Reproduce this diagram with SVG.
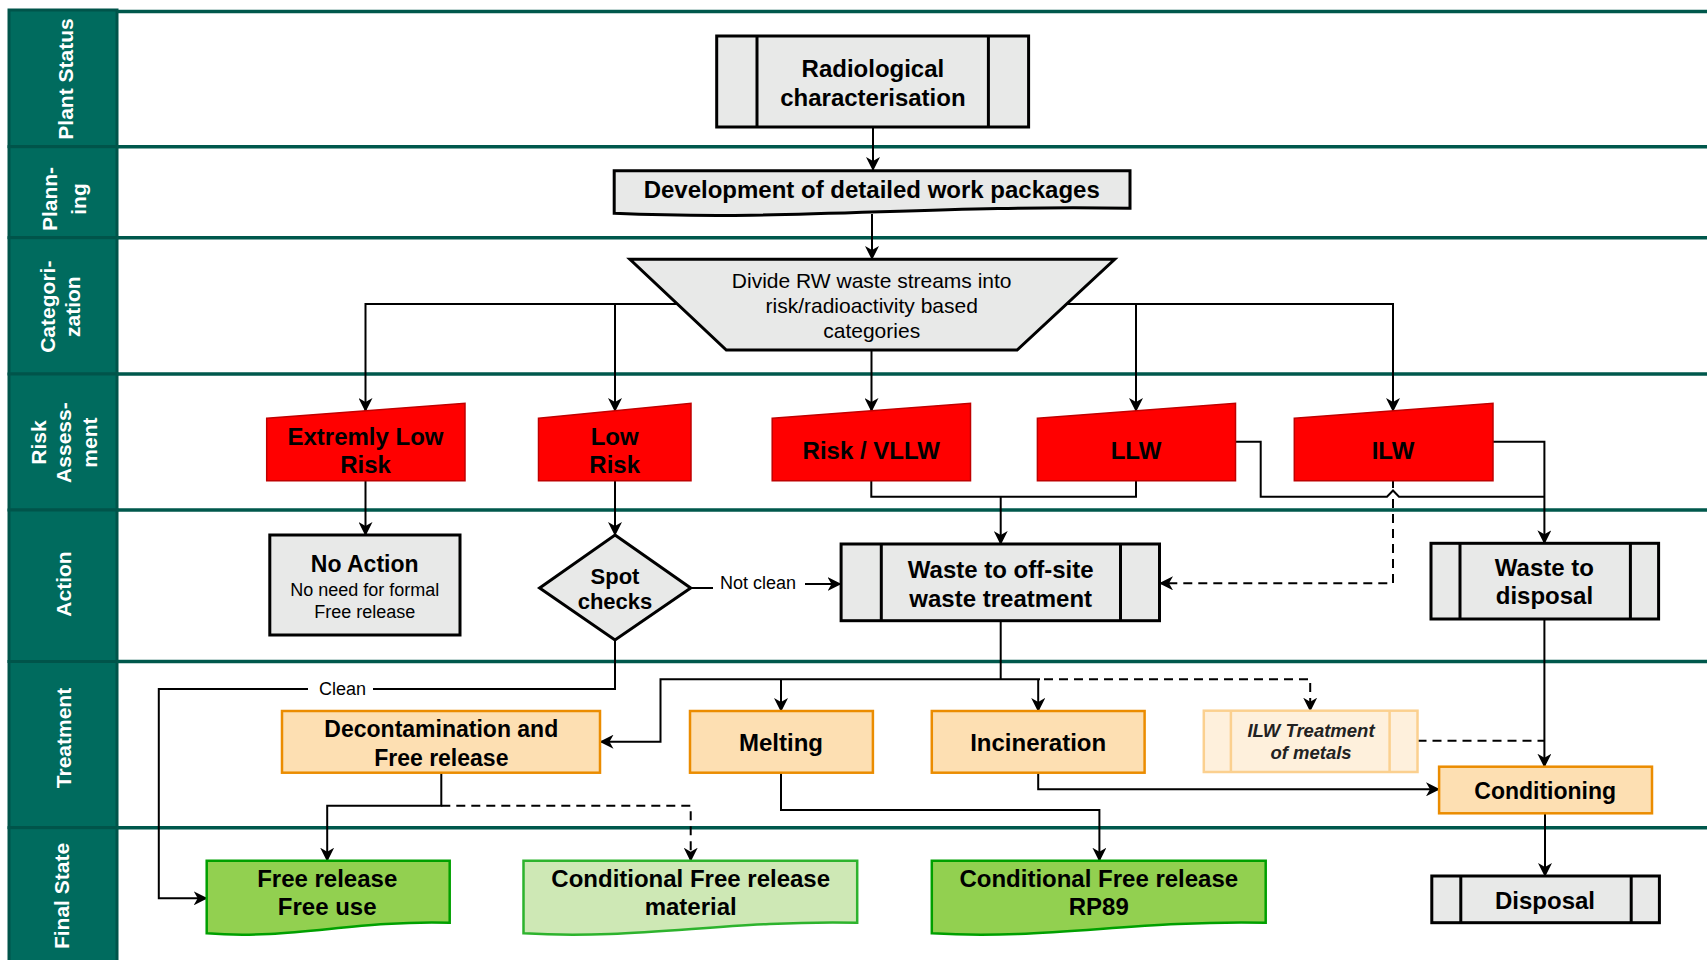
<svg xmlns="http://www.w3.org/2000/svg" width="1707" height="960" viewBox="0 0 1707 960">
<style>
.lane{fill:#006B5E;stroke:#00544A;stroke-width:3}
.lline{stroke:#00584C;stroke-width:3.5;fill:none}
.ltxt{font-family:"Liberation Sans",Arial,sans-serif;font-size:21px;font-weight:bold;fill:#fff;text-anchor:middle}
.gray{fill:#E8E9E8;stroke:#000;stroke-width:3}
.red{fill:#FF0000;stroke:#C00000;stroke-width:1.5}
.org{fill:#FDDFB2;stroke:#EB8C00;stroke-width:2.5}
.orgl{fill:#FEF0DC;stroke:#FBD08F;stroke-width:2.5}
.grn{fill:#92D050;stroke:#00A000;stroke-width:2.5}
.grnl{fill:#CEE8B5;stroke:#2DB32D;stroke-width:2.5}
.b{font-family:"Liberation Sans",Arial,sans-serif;font-size:24px;font-weight:bold;fill:#000;text-anchor:middle}
.r{font-family:"Liberation Sans",Arial,sans-serif;font-size:21px;fill:#000;text-anchor:middle}
.s{font-family:"Liberation Sans",Arial,sans-serif;font-size:18px;fill:#000;text-anchor:middle}
.c{stroke:#000;stroke-width:2;fill:none}
.d{stroke:#000;stroke-width:2;fill:none;stroke-dasharray:9 6}
.a{marker-end:url(#arr)}
</style>
<defs>
<marker id="arr" viewBox="0 0 14 14" refX="13" refY="7" markerWidth="14" markerHeight="14" markerUnits="userSpaceOnUse" orient="auto">
<path d="M0,0 L14,7 L0,14 L4,7 Z" fill="#000"/>
</marker>
</defs>
<rect width="1707" height="960" fill="#fff"/>

<g id="lanes">
<rect class="lane" x="9" y="10" width="108" height="136.7"/>
<rect class="lane" x="9" y="146.7" width="108" height="91"/>
<rect class="lane" x="9" y="237.7" width="108" height="136.3"/>
<rect class="lane" x="9" y="374" width="108" height="136"/>
<rect class="lane" x="9" y="510" width="108" height="151.5"/>
<rect class="lane" x="9" y="661.5" width="108" height="166.2"/>
<rect class="lane" x="9" y="827.7" width="108" height="134"/>
<path class="lline" d="M117,11.5H1707M117,146.7H1707M117,237.7H1707M117,374H1707M117,510H1707M117,661.5H1707M117,827.7H1707"/>
<text class="ltxt" transform="translate(72.5,79) rotate(-90)">Plant Status</text>
<text class="ltxt" transform="translate(57.3,199) rotate(-90)">Plann-</text>
<text class="ltxt" transform="translate(86,199) rotate(-90)">ing</text>
<text class="ltxt" transform="translate(55.3,306.7) rotate(-90)">Categori-</text>
<text class="ltxt" transform="translate(80.2,306.7) rotate(-90)">zation</text>
<text class="ltxt" transform="translate(45.8,442.6) rotate(-90)">Risk</text>
<text class="ltxt" transform="translate(70.6,442.6) rotate(-90)">Assess-</text>
<text class="ltxt" transform="translate(97,442.6) rotate(-90)">ment</text>
<text class="ltxt" transform="translate(70.5,584) rotate(-90)">Action</text>
<text class="ltxt" transform="translate(70.5,738) rotate(-90)">Treatment</text>
<text class="ltxt" transform="translate(68.5,896) rotate(-90)">Final State</text>
</g>

<g id="connectors">
<path class="c a" d="M873,127V170"/>
<path class="c a" d="M872,214V259"/>
<path class="c a" d="M677.4,304H365.5V411"/>
<path class="c a" d="M615,304V411"/>
<path class="c a" d="M871.5,350V411"/>
<path class="c a" d="M1066.6,304H1393V411"/>
<path class="c a" d="M1136,304V411"/>
<path class="c a" d="M365.5,481V535"/>
<path class="c a" d="M615,481V535"/>
<path class="c" d="M871.3,481V496.7H1136V481"/>
<path class="c a" d="M1000.7,496.7V544"/>
<path class="c" d="M1235.5,441.7H1260.7V496.7H1387L1393,490.5L1399,496.7H1544.4"/>
<path class="c a" d="M1493,441.7H1544.4V543.3"/>
<path class="c" d="M1393,481V488"/>
<path class="d a" d="M1393,499V583.3H1160"/>
<path class="c" d="M690.7,588H713"/>
<path class="c a" d="M805,584H840.5"/>
<path class="c" d="M615,640V689H373"/>
<path class="c a" d="M308,689H158.8V898.3H206.7"/>
<path class="c" d="M1000.7,620.7V679.3"/>
<path class="c a" d="M1040,679.3H660.5V741.7H600.5"/>
<path class="c a" d="M781,679.3V711"/>
<path class="c a" d="M1038.2,679.3V711"/>
<path class="d a" d="M1044,679.3H1310.2V710.7"/>
<path class="d" d="M1417.5,740.7H1544.4"/>
<path class="c a" d="M1544.4,619V766.7"/>
<path class="c a" d="M1038.2,772.7V789.3H1439"/>
<path class="c a" d="M781,772.7V810H1099.4V860.7"/>
<path class="c a" d="M441.3,772.7V805.7H327.2V860.7"/>
<path class="d a" d="M441.3,805.7H690.7V860.7"/>
<path class="c a" d="M1545,813.3V876"/>
<text class="s" x="758" y="588.5">Not clean</text>
<text class="s" x="342.5" y="695">Clean</text>
</g>

<g id="radiological">
<rect class="gray" x="716.7" y="36" width="311.9" height="91"/>
<path class="c" style="stroke-width:3" d="M757,36V127M988.4,36V127"/>
<text class="b" x="872.9" y="77">Radiological</text>
<text class="b" x="872.9" y="106">characterisation</text>
</g>

<g id="development">
<path class="gray" d="M614.2,170.7H1130V208.3C923.7,205 794.7,221 614.2,213.3Z"/>
<text class="b" x="871.7" y="198">Development of detailed work packages</text>
</g>

<g id="divide">
<polygon class="gray" points="629.9,259.3 1114.7,259.3 1017.1,350 726.3,350"/>
<text class="r" x="871.7" y="288">Divide RW waste streams into</text>
<text class="r" x="871.7" y="313">risk/radioactivity based</text>
<text class="r" x="871.7" y="338">categories</text>
</g>

<g id="extremely-low-risk">
<polygon class="red" points="266.7,418.3 465,403.3 465,480.7 266.7,480.7"/>
<text class="b" x="365.5" y="445">Extremly Low</text>
<text class="b" x="365.5" y="473">Risk</text>
</g>
<g id="low-risk">
<polygon class="red" points="538.5,418.3 691,403.3 691,480.7 538.5,480.7"/>
<text class="b" x="614.7" y="445">Low</text>
<text class="b" x="614.7" y="473">Risk</text>
</g>
<g id="risk-vllw">
<polygon class="red" points="772.2,418.3 970.5,403.3 970.5,480.7 772.2,480.7"/>
<text class="b" x="871.3" y="459">Risk / VLLW</text>
</g>
<g id="llw">
<polygon class="red" points="1037.4,418.3 1235.5,403.3 1235.5,480.7 1037.4,480.7"/>
<text class="b" x="1136" y="459">LLW</text>
</g>
<g id="ilw">
<polygon class="red" points="1294.3,418.3 1493,403.3 1493,480.7 1294.3,480.7"/>
<text class="b" x="1393" y="459">ILW</text>
</g>

<g id="no-action">
<rect class="gray" x="269.8" y="535" width="190.2" height="100"/>
<text class="b" style="font-size:23px" x="364.7" y="572">No Action</text>
<text class="s" x="364.7" y="596">No need for formal</text>
<text class="s" x="364.7" y="618">Free release</text>
</g>

<g id="spot-checks">
<polygon class="gray" points="615,535 690.7,588 615,640 539.6,588"/>
<text class="b" style="font-size:22px" x="615" y="584">Spot</text>
<text class="b" style="font-size:22px" x="615" y="609">checks</text>
</g>

<g id="offsite">
<rect class="gray" x="841.1" y="544" width="318.4" height="76.7"/>
<path class="c" style="stroke-width:3" d="M881.3,544V620.7M1120.5,544V620.7"/>
<text class="b" x="1000.7" y="577.5">Waste to off-site</text>
<text class="b" x="1000.7" y="607">waste treatment</text>
</g>

<g id="waste-disposal">
<rect class="gray" x="1431" y="543.3" width="227.6" height="75.7"/>
<path class="c" style="stroke-width:3" d="M1460,543.3V619M1630.4,543.3V619"/>
<text class="b" x="1544.4" y="576">Waste to</text>
<text class="b" x="1544.4" y="604">disposal</text>
</g>

<g id="decontamination">
<rect class="org" x="282" y="711" width="318" height="61.7"/>
<text class="b" style="font-size:23px" x="441.3" y="737">Decontamination and</text>
<text class="b" style="font-size:23px" x="441.3" y="765.5">Free release</text>
</g>
<g id="melting">
<rect class="org" x="690" y="711" width="182.9" height="61.7"/>
<text class="b" x="781" y="751">Melting</text>
</g>
<g id="incineration">
<rect class="org" x="931.8" y="711" width="212.8" height="61.7"/>
<text class="b" x="1038.2" y="751">Incineration</text>
</g>
<g id="ilw-treatment">
<rect class="orgl" x="1203.8" y="710.7" width="213.7" height="61.3"/>
<path style="stroke:#FBD08F;stroke-width:2.5;fill:none" d="M1230.9,710.7V772M1389.6,710.7V772"/>
<text class="b" style="font-size:18.5px;font-style:italic;fill:#222" x="1311" y="737.3">ILW Treatment</text>
<text class="b" style="font-size:18.5px;font-style:italic;fill:#222" x="1311" y="759.3">of metals</text>
</g>
<g id="conditioning">
<rect class="org" x="1439.1" y="766.7" width="212.9" height="46.6"/>
<text class="b" style="font-size:23px" x="1545.2" y="798.5">Conditioning</text>
</g>

<g id="free-release">
<path class="grn" d="M206.7,860.7H449.7V922.7C352.5,920 291.7,940 206.7,933.3Z"/>
<text class="b" x="327.2" y="887.3">Free release</text>
<text class="b" x="327.2" y="915">Free use</text>
</g>
<g id="cond-material">
<path class="grnl" d="M523.5,860.7H857.2V922.7C723.7,920 640.3,940 523.5,933.3Z"/>
<text class="b" x="690.7" y="887.3">Conditional Free release</text>
<text class="b" x="690.7" y="915">material</text>
</g>
<g id="cond-rp89">
<path class="grn" d="M931.8,860.7H1265.7V922.7C1132,920 1048.7,940 931.8,933.3Z"/>
<text class="b" x="1098.8" y="887.3">Conditional Free release</text>
<text class="b" x="1098.8" y="915">RP89</text>
</g>
<g id="disposal">
<rect class="gray" x="1431.8" y="876" width="227.6" height="46.7"/>
<path class="c" style="stroke-width:3" d="M1460.8,876V922.7M1631.2,876V922.7"/>
<text class="b" x="1545" y="909">Disposal</text>
</g>
</svg>
